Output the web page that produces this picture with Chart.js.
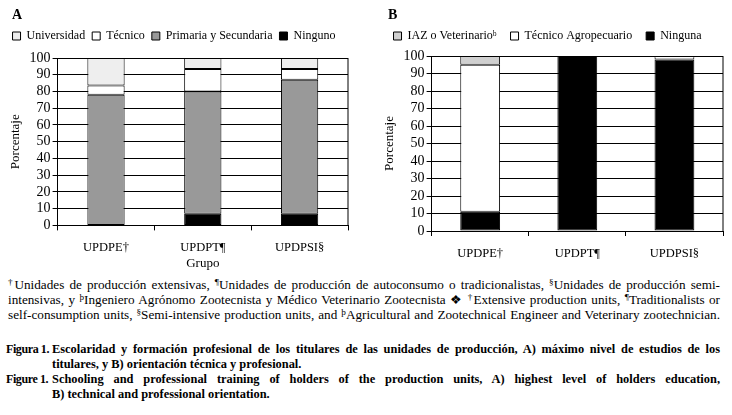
<!DOCTYPE html>
<html lang="es">
<head>
    <meta charset="UTF-8">
    <title>Figura 1</title>
    <script src="https://cdn.jsdelivr.net/npm/chart.js"></script>
    <style>
        body { margin: 0; width: 732px; height: 415px; background: #fff; position: relative; overflow: hidden;
               font-family: 'Liberation Serif', 'DejaVu Serif', serif; color: #000; }
        .panel { position: absolute; top: 0; height: 272px; }
        .letra { position: absolute; top: 7px; font-weight: bold; font-size: 14px; }
        .nota { position: absolute; left: 8px; width: 712px; top: 277px; font-size: 13.2px; line-height: 15px; }
        .nota div, .pie .txt div { white-space: nowrap; text-align: justify; text-align-last: justify; }
        sup { font-size: 70%; line-height: 0; vertical-align: 0; position: relative; top: -0.45em; }
        .pie { position: absolute; left: 6px; width: 714px; top: 342px; font-size: 12.4px; line-height: 15px; font-weight: bold; }
        .fila { display: flex; }
        .fila .lab { width: 46px; flex: none; white-space: nowrap; font-size: 12px; letter-spacing: -0.4px; }
        .fila .txt { flex: 1; }
    </style>
</head>
<body>
    <div class="panel" style="left:0; width:368px;"><canvas id="graficoA"></canvas></div>
    <div class="panel" style="left:368px; width:364px;"><canvas id="graficoB"></canvas></div>
    <div class="letra" style="left:12px;">A</div>
    <div class="letra" style="left:388px;">B</div>

    <div class="nota">
        <div><sup>†</sup>Unidades de producción extensivas, <sup>¶</sup>Unidades de producción de autoconsumo o tradicionalistas, <sup>§</sup>Unidades de producción semi-</div>
        <div>intensivas, y <sup>þ</sup>Ingeniero Agrónomo Zootecnista y Médico Veterinario Zootecnista ❖ <sup>†</sup>Extensive production units, <sup>¶</sup>Traditionalists or</div>
        <div>self-consumption units, <sup>§</sup>Semi-intensive production units, and <sup>þ</sup>Agricultural and Zootechnical Engineer and Veterinary zootechnician.</div>
    </div>

    <div class="pie">
        <div class="fila"><div class="lab">Figura 1.</div><div class="txt">
            <div>Escolaridad y formación profesional de los titulares de las unidades de producción, A) máximo nivel de estudios de los</div>
            <div style="text-align-last:left">titulares, y B) orientación técnica y profesional.</div>
        </div></div>
        <div class="fila"><div class="lab">Figure 1.</div><div class="txt">
            <div>Schooling and professional training of holders of the production units, A) highest level of holders education,</div>
            <div style="text-align-last:left">B) technical and professional orientation.</div>
        </div></div>
    </div>

    <script>
        // Datos (porcentaje)
        const grupos = ['UPDPE†', 'UPDPT¶', 'UPDPSI§'];

        // A) maximo nivel de estudios
        const ningunoA = [0, 7, 7];
        const primariaA = [78, 73, 80];
        const tecnicoA = [5.5, 13.5, 6.5];
        const universidadA = [16.5, 6.5, 6.5];

        // B) orientacion tecnica y profesional
        const ningunaB = [11, 100, 98];
        const agropecuarioB = [84, 0, 2];
        const iazB = [5, 0, 0];

        Chart.defaults.color = '#000';
        Chart.defaults.font.family = "'Liberation Serif', 'DejaVu Serif', serif";

        // linea del borde derecho del area de trazado
        const bordeDerecho = {
            id: 'bordeDerecho',
            afterDatasetsDraw(chart) {
                const { ctx, chartArea } = chart;
                ctx.save();
                ctx.strokeStyle = '#000';
                ctx.lineWidth = 1;
                ctx.beginPath();
                ctx.moveTo(chartArea.right, chartArea.top);
                ctx.lineTo(chartArea.right, chartArea.bottom);
                ctx.stroke();
                ctx.restore();
            }
        };

        // espacio extra debajo de la leyenda
        function margenLeyenda(extra) {
            return {
                id: 'margenLeyenda',
                beforeInit(chart) {
                    const fitOriginal = chart.legend.fit;
                    chart.legend.fit = function () {
                        fitOriginal.bind(chart.legend)();
                        this.height += extra;
                    };
                }
            };
        }

        function serie(label, data, color, ancho) {
            return {
                label: label,
                data: data,
                backgroundColor: color,
                borderColor: '#000',
                borderWidth: 1,
                borderSkipped: false,
                barPercentage: ancho,
                categoryPercentage: 1
            };
        }

        function opciones(tituloX, padding, espacio, tituloYpad, margenX) {
            return {
                responsive: true,
                maintainAspectRatio: false,
                animation: false,
                layout: { padding: padding },
                plugins: {
                    legend: {
                        position: 'top',
                        labels: {
                            boxWidth: 8,
                            boxHeight: 8,
                            padding: espacio,
                            font: { size: 12 },
                            sort: (a, b) => b.datasetIndex - a.datasetIndex
                        }
                    },
                    tooltip: { enabled: false }
                },
                scales: {
                    x: {
                        stacked: true,
                        grid: { display: true, drawOnChartArea: false, color: '#000', tickLength: 5 },
                        border: { color: '#000' },
                        ticks: { font: { size: 12.5 }, padding: margenX },
                        title: { display: !!tituloX, text: tituloX, font: { size: 13 }, padding: { top: -10, bottom: 0 } }
                    },
                    y: {
                        stacked: true,
                        min: 0,
                        max: 100,
                        ticks: { stepSize: 10, autoSkip: false, font: { size: 14 }, padding: 2 },
                        grid: { color: '#000', tickLength: 5 },
                        border: { color: '#000' },
                        title: { display: true, text: 'Porcentaje', font: { size: 13 }, padding: tituloYpad }
                    }
                }
            };
        }

        new Chart(document.getElementById('graficoA'), {
            type: 'bar',
            data: {
                labels: grupos,
                datasets: [
                    serie('Ninguno', ningunoA, '#000000', 0.385),
                    serie('Primaria y Secundaria', primariaA, '#999999', 0.385),
                    serie('Técnico', tecnicoA, '#ffffff', 0.385),
                    serie('Universidad', universidadA, '#eeeeee', 0.385)
                ]
            },
            options: opciones('Grupo', { top: 23, left: 0, right: 20, bottom: 1 }, 7, { top: 8, bottom: 4 }, 10),
            plugins: [bordeDerecho, margenLeyenda(6)]
        });

        new Chart(document.getElementById('graficoB'), {
            type: 'bar',
            data: {
                labels: grupos,
                datasets: [
                    serie('Ninguna', ningunaB, '#000000', 0.41),
                    serie('Técnico Agropecuario', agropecuarioB, '#ffffff', 0.41),
                    serie('IAZ o Veterinarioᵇ', iazB, '#d0d0d0', 0.41)
                ]
            },
            options: opciones('', { top: 16, left: 4, right: 9, bottom: 1 }, 14, { top: 10, bottom: 4 }, 10),
            plugins: [bordeDerecho, margenLeyenda(4)]
        });
    </script>
</body>
</html>
